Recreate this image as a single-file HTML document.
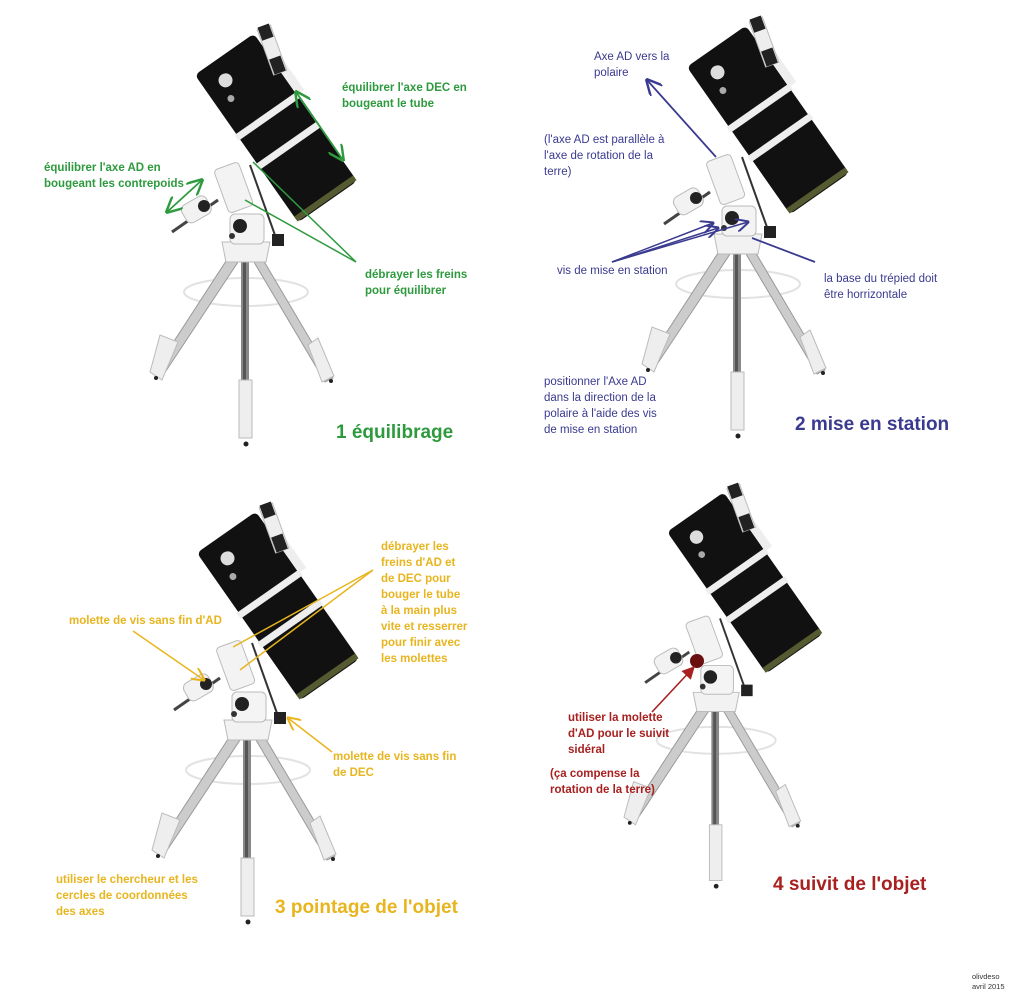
<!DOCTYPE html>
<html><head><meta charset="utf-8"><style>
html,body{margin:0;padding:0;background:#fff;}
svg{display:block;}
text{font-family:"Liberation Sans",sans-serif;}
.g{fill:#2e9a3e;font-weight:bold;font-size:11.5px;}
.b{fill:#3a3a90;font-size:11.5px;}
.y{fill:#e8b51e;font-weight:bold;font-size:11.5px;}
.r{fill:#a82020;font-weight:bold;font-size:11.5px;}
</style></head><body>
<svg width="1025" height="1003" viewBox="0 0 1025 1003" xmlns="http://www.w3.org/2000/svg">
<defs>
<g id="tel">
  <ellipse cx="246" cy="292" rx="62" ry="14" fill="none" stroke="#e2e2e2" stroke-width="2"/>
  <path d="M228 258 L154 372 L162 377 L238 262 Z" fill="#ccc" stroke="#999" stroke-width="1"/>
  <path d="M160 335 L150 372 L162 380 L178 342 Z" fill="#eee" stroke="#bbb"/>
  <path d="M262 258 L333 378 L325 382 L254 262 Z" fill="#ccc" stroke="#999" stroke-width="1"/>
  <path d="M318 338 L334 376 L322 382 L308 345 Z" fill="#eee" stroke="#bbb"/>
  <circle cx="156" cy="378" r="2" fill="#222"/><circle cx="331" cy="381" r="2" fill="#222"/>
  <rect x="241" y="262" width="8" height="120" fill="#888"/>
  <rect x="243" y="262" width="3" height="120" fill="#555"/>
  <rect x="239" y="380" width="13" height="58" fill="#eee" stroke="#bbb"/>
  <circle cx="246" cy="444" r="2.5" fill="#222"/>
  <path d="M222 242 L270 242 L266 262 L226 262 Z" fill="#f2f2f2" stroke="#bbb"/>
  <rect x="230" y="214" width="34" height="30" rx="5" fill="#f4f4f4" stroke="#bbb"/>
  <circle cx="240" cy="226" r="7" fill="#222"/>
  <circle cx="232" cy="236" r="3" fill="#333"/>
  <line x1="250" y1="165" x2="276" y2="238" stroke="#333" stroke-width="2"/>
  <rect x="272" y="234" width="12" height="12" fill="#222"/>
  <line x1="172" y1="232" x2="218" y2="200" stroke="#444" stroke-width="3"/>
  <rect x="182" y="200" width="28" height="20" rx="6" fill="#f2f2f2" stroke="#bbb" transform="rotate(-30 195 209)"/>
  <circle cx="204" cy="206" r="6" fill="#222"/>
  <rect x="220" y="165" width="26" height="46" rx="4" fill="#f3f3f3" stroke="#bbb" transform="rotate(-20 232 186)"/>
  <g transform="translate(276 128) rotate(-35)">
    <rect x="-36" y="-90" width="72" height="180" rx="5" fill="#111"/>
    <rect x="-36" y="83" width="72" height="6" fill="#565a30"/>
    <rect x="-38" y="-18" width="76" height="7" fill="#eee"/>
    <rect x="-38" y="18" width="76" height="7" fill="#eee"/>
    <circle cx="-14" cy="-68" r="7" fill="#ddd"/>
    <circle cx="-20" cy="-50" r="3.5" fill="#aaa"/>
    <rect x="36" y="-60" width="9" height="45" fill="#eee"/>
  </g>
  <g transform="translate(272 50) rotate(-20)">
    <rect x="-7" y="-24" width="14" height="48" fill="#eee" stroke="#bbb"/>
    <rect x="-6" y="-26" width="12" height="14" fill="#222"/>
    <rect x="-6" y="8" width="12" height="16" fill="#222"/>
  </g>
</g>
<marker id="ag" viewBox="0 0 10 10" refX="9" refY="5" markerWidth="9" markerHeight="9" orient="auto-start-reverse"><path d="M0 0 L10 5 L0 10" fill="none" stroke="#2e9a3e" stroke-width="1.5"/></marker>
<marker id="ab" viewBox="0 0 10 10" refX="9" refY="5" markerWidth="9" markerHeight="9" orient="auto-start-reverse"><path d="M0 0 L10 5 L0 10" fill="none" stroke="#3a3a90" stroke-width="1.5"/></marker>
<marker id="ay" viewBox="0 0 10 10" refX="9" refY="5" markerWidth="9" markerHeight="9" orient="auto"><path d="M0 0 L10 5 L0 10" fill="none" stroke="#e8b51e" stroke-width="1.5"/></marker>
<marker id="ar" viewBox="0 0 10 10" refX="9" refY="5" markerWidth="8" markerHeight="8" orient="auto"><path d="M0 0 L10 5 L0 10 Z" fill="#a82020"/></marker>
</defs>

<use href="#tel"/>
<text class="g" x="342" y="91">équilibrer l'axe DEC en</text>
<text class="g" x="342" y="107">bougeant le tube</text>
<line x1="296" y1="92" x2="343" y2="160" stroke="#2e9a3e" stroke-width="1.8" marker-start="url(#ag)" marker-end="url(#ag)"/>
<text class="g" x="44" y="171">équilibrer l'axe AD en</text>
<text class="g" x="44" y="187">bougeant les contrepoids</text>
<line x1="167" y1="212" x2="202" y2="180" stroke="#2e9a3e" stroke-width="1.8" marker-start="url(#ag)" marker-end="url(#ag)"/>
<line x1="253" y1="162" x2="356" y2="262" stroke="#2e9a3e" stroke-width="1.5"/>
<line x1="245" y1="200" x2="356" y2="262" stroke="#2e9a3e" stroke-width="1.5"/>
<text class="g" x="365" y="278">débrayer les freins</text>
<text class="g" x="365" y="294">pour équilibrer</text>
<text x="336" y="438" style="fill:#2e9a3e;font-weight:bold;font-size:19px">1 équilibrage</text>

<use href="#tel" transform="translate(492 -8)"/>
<text class="b" x="594" y="60">Axe AD vers la</text>
<text class="b" x="594" y="76">polaire</text>
<line x1="716" y1="157" x2="647" y2="80" stroke="#3a3a90" stroke-width="1.8" marker-end="url(#ab)"/>
<text class="b" x="544" y="143">(l'axe AD est parallèle à</text>
<text class="b" x="544" y="159">l'axe de rotation de la</text>
<text class="b" x="544" y="175">terre)</text>
<line x1="612" y1="262" x2="713" y2="223" stroke="#3a3a90" stroke-width="1.5" marker-end="url(#ab)"/>
<line x1="612" y1="262" x2="718" y2="228" stroke="#3a3a90" stroke-width="1.5" marker-end="url(#ab)"/>
<line x1="612" y1="262" x2="748" y2="222" stroke="#3a3a90" stroke-width="1.5" marker-end="url(#ab)"/>
<text class="b" x="557" y="274">vis de mise en station</text>
<line x1="815" y1="262" x2="752" y2="238" stroke="#3a3a90" stroke-width="1.8"/>
<text class="b" x="824" y="282">la base du trépied doit</text>
<text class="b" x="824" y="298">être horrizontale</text>
<text class="b" x="544" y="385">positionner l'Axe AD</text>
<text class="b" x="544" y="401">dans la direction de la</text>
<text class="b" x="544" y="417">polaire à l'aide des vis</text>
<text class="b" x="544" y="433">de mise en station</text>
<text x="795" y="430" style="fill:#3a3a90;font-weight:bold;font-size:19px">2 mise en station</text>

<use href="#tel" transform="translate(2 478)"/>
<text class="y" x="381" y="550">débrayer les</text>
<text class="y" x="381" y="566">freins d'AD et</text>
<text class="y" x="381" y="582">de DEC  pour</text>
<text class="y" x="381" y="598">bouger le tube</text>
<text class="y" x="381" y="614">à la main plus</text>
<text class="y" x="381" y="630">vite et resserrer</text>
<text class="y" x="381" y="646">pour finir avec</text>
<text class="y" x="381" y="662">les molettes</text>
<line x1="373" y1="570" x2="233" y2="647" stroke="#e8b51e" stroke-width="1.5"/>
<line x1="373" y1="570" x2="240" y2="670" stroke="#e8b51e" stroke-width="1.5"/>
<text class="y" x="69" y="624">molette de vis sans fin d'AD</text>
<line x1="133" y1="631" x2="204" y2="680" stroke="#e8b51e" stroke-width="1.5" marker-end="url(#ay)"/>
<line x1="332" y1="752" x2="288" y2="718" stroke="#e8b51e" stroke-width="1.5" marker-end="url(#ay)"/>
<text class="y" x="333" y="760">molette de vis sans fin</text>
<text class="y" x="333" y="776">de DEC</text>
<text class="y" x="56" y="883">utiliser le chercheur et les</text>
<text class="y" x="56" y="899">cercles de coordonnées</text>
<text class="y" x="56" y="915">des axes</text>
<text x="275" y="913" style="fill:#e8b51e;font-weight:bold;font-size:19px">3 pointage de l'objet</text>

<use href="#tel" transform="translate(480 460) scale(0.96)"/>
<circle cx="697" cy="661" r="7" fill="#6a1010"/>
<line x1="652" y1="712" x2="694" y2="667" stroke="#a82020" stroke-width="1.6" marker-end="url(#ar)"/>
<text class="r" x="568" y="721">utiliser la molette</text>
<text class="r" x="568" y="737">d'AD pour le suivit</text>
<text class="r" x="568" y="753">sidéral</text>
<text class="r" x="550" y="777">(ça compense la</text>
<text class="r" x="550" y="793">rotation de la terre)</text>
<text x="773" y="890" style="fill:#a82020;font-weight:bold;font-size:19px">4 suivit de l'objet</text>

<text x="972" y="979" style="font-size:7.5px;fill:#333">olivdeso</text>
<text x="972" y="989" style="font-size:7.5px;fill:#333">avril 2015</text>
</svg>
</body></html>
